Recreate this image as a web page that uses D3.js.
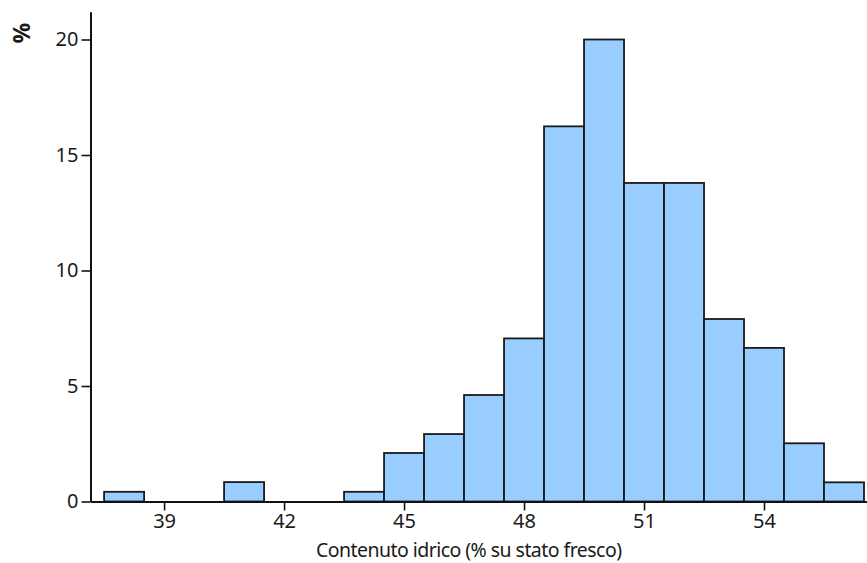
<!DOCTYPE html>
<html>
<head>
<meta charset="utf-8">
<script src="https://cdn.jsdelivr.net/npm/d3@7"></script>
<style>
  html, body { margin: 0; padding: 0; background: #fff; }
  svg { display: block; }
  text { font-family: "Noto Sans", "DejaVu Sans", sans-serif; fill: #1a1a1a; }
</style>
</head>
<body>
<svg id="chart" width="867" height="563"></svg>
<script>
// Histogram of water content: bins of width 1 (% on fresh weight)
const binStarts = [37.5, 38.5, 39.5, 40.5, 41.5, 42.5, 43.5, 44.5, 45.5, 46.5,
                   47.5, 48.5, 49.5, 50.5, 51.5, 52.5, 53.5, 54.5, 55.5];
const binWidth = 1;
const percents = [0.42, 0, 0, 0.84, 0, 0, 0.42, 2.10, 2.92, 4.61,
                  7.06, 16.24, 20.0, 13.79, 13.79, 7.90, 6.65, 2.52, 0.83];
const xTicks = [39, 42, 45, 48, 51, 54];
const yTicks = [0, 5, 10, 15, 20];
const xTitle = "Contenuto idrico (% su stato fresco)";
const yTitle = "%";

const svg = d3.select("#chart");

const x = d3.scaleLinear().domain([37.16, 56.6]).range([90.5, 868]);
const y = d3.scaleLinear().domain([0, 20]).range([501.5, 39.5]);
const yTop = 21.2;

// bars
svg.append("g")
  .selectAll("rect")
  .data(binStarts.map((s, i) => ({ s, v: percents[i] })))
  .join("rect")
  .attr("x", d => x(d.s))
  .attr("width", d => x(d.s + binWidth) - x(d.s))
  .attr("y", d => y(d.v))
  .attr("height", d => y(0) - y(d.v))
  .attr("fill", "#99ccff")
  .attr("stroke", "#1a1a1a")
  .attr("stroke-width", 1.8);

// x axis
const xAxis = svg.append("g")
  .attr("transform", `translate(0,${y(0)})`)
  .call(d3.axisBottom(x).tickValues(xTicks).tickFormat(d3.format("d"))
    .tickSizeInner(9).tickSizeOuter(0).tickPadding(3));
xAxis.select(".domain").attr("stroke", "#111").attr("stroke-width", 2);
xAxis.selectAll(".tick line").attr("stroke", "#111").attr("stroke-width", 1.6);
xAxis.selectAll(".tick text").attr("font-size", 20).attr("font-family", null);

// y axis
const yAxis = svg.append("g")
  .attr("transform", `translate(${x.range()[0]},0)`)
  .call(d3.axisLeft(y.copy().domain([0, yTop]).range([y(0), y(yTop)]))
    .tickValues(yTicks).tickSizeInner(9).tickSizeOuter(0).tickPadding(3));
yAxis.select(".domain").attr("stroke", "#111").attr("stroke-width", 2);
yAxis.selectAll(".tick line").attr("stroke", "#111").attr("stroke-width", 1.6);
yAxis.selectAll(".tick text").attr("font-size", 20).attr("font-family", null);

// axis titles
svg.append("text")
  .attr("x", 469)
  .attr("y", 557)
  .attr("text-anchor", "middle")
  .attr("font-size", 19.5)
  .attr("textLength", 306)
  .attr("lengthAdjust", "spacing")
  .text(xTitle);

svg.append("text")
  .attr("transform", "translate(30,33) rotate(-90)")
  .attr("text-anchor", "middle")
  .attr("font-size", 23)
  .attr("font-weight", "bold")
  .text(yTitle);
</script>
</body>
</html>
